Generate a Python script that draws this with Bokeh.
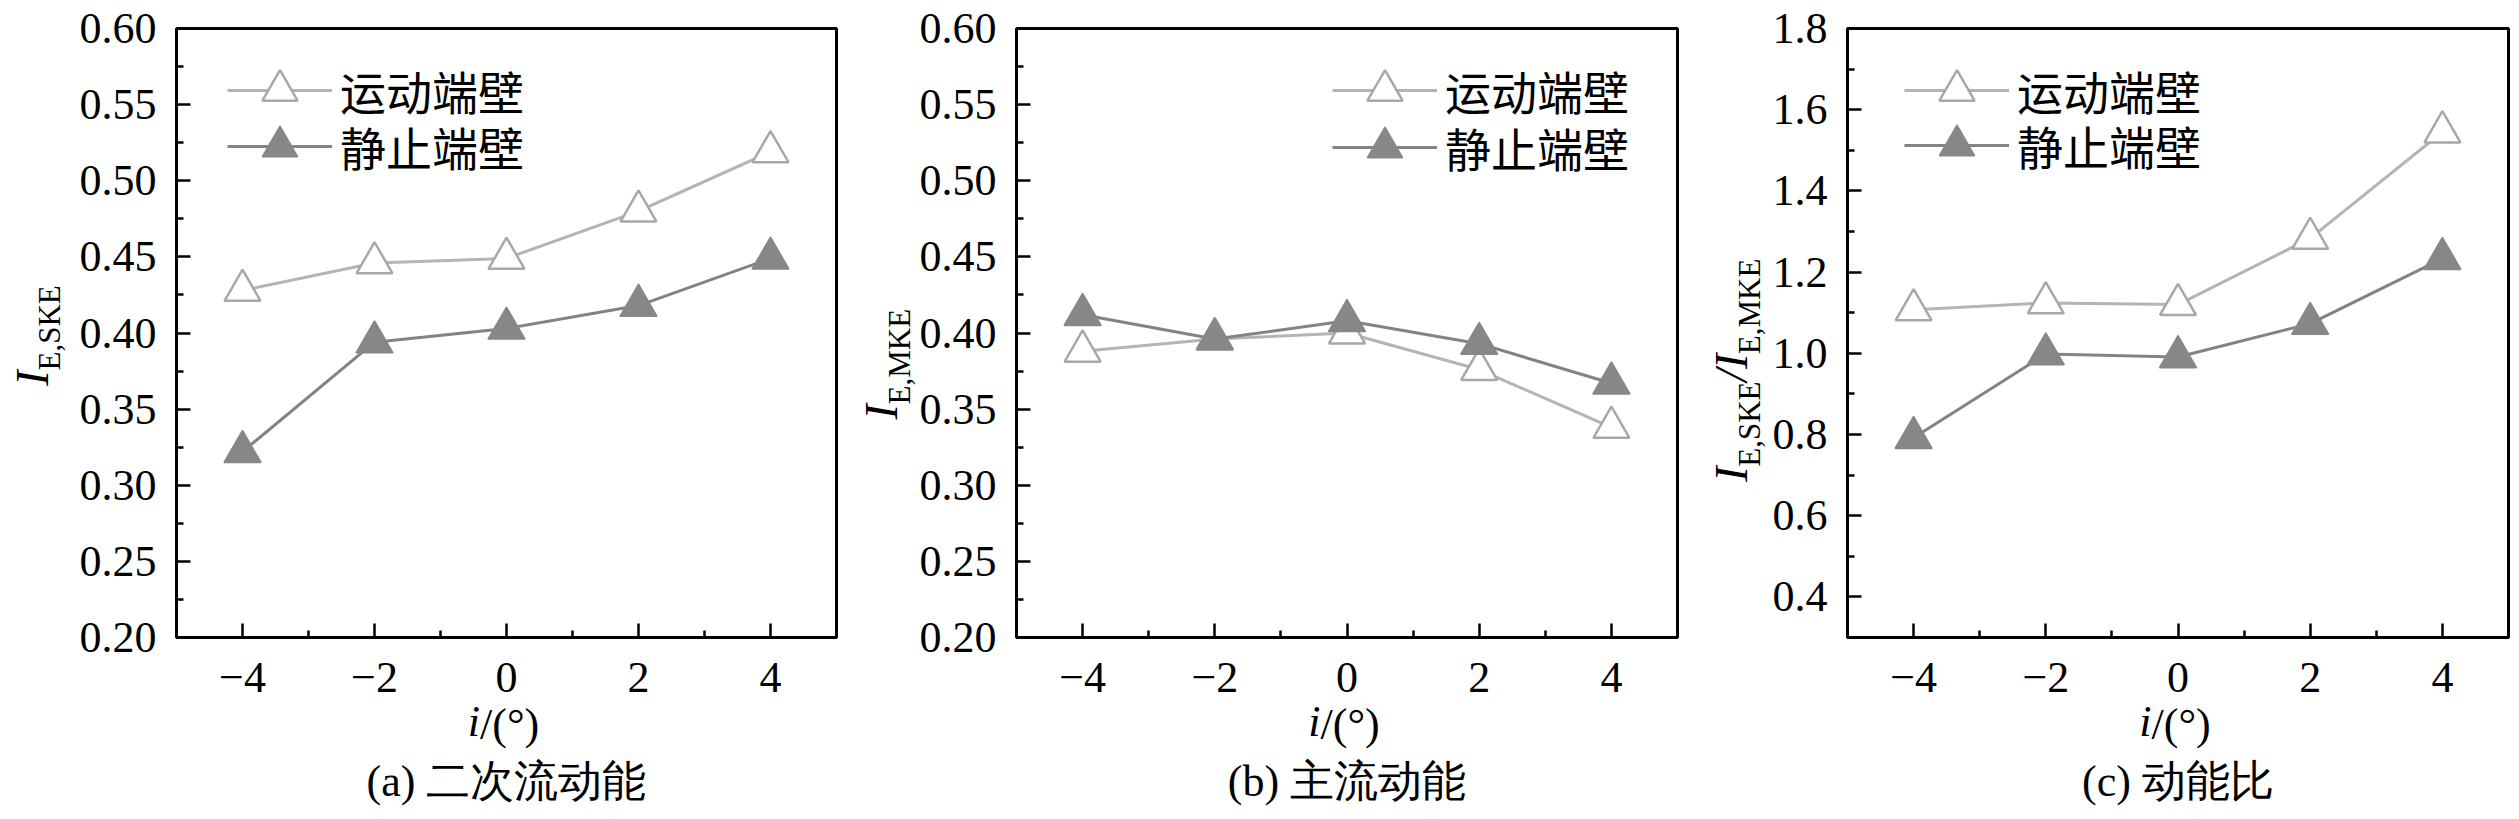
from bokeh.plotting import figure
from bokeh.models import (FixedTicker, Legend, LegendItem, Range1d,
                          NumeralTickFormatter, LinearAxis)
from bokeh.layouts import row
from bokeh.embed import file_html
from bokeh.resources import INLINE

# ---------------- data ----------------
incidence = [-4, -2, 0, 2, 4]
x_tick_labels = ["\u22124", "\u22122", "0", "2", "4"]
series_names = ["运动端壁", "静止端壁"]

ske_moving = [0.428, 0.446, 0.449, 0.480, 0.519]
ske_static = [0.322, 0.394, 0.403, 0.418, 0.449]

mke_moving = [0.388, 0.396, 0.400, 0.376, 0.338]
mke_static = [0.412, 0.396, 0.408, 0.393, 0.367]

ratio_moving = [1.107, 1.124, 1.120, 1.283, 1.545]
ratio_static = [0.792, 0.998, 0.991, 1.073, 1.233]

captions = ["(a) 二次流动能", "(b) 主流动能", "(c) 动能比"]
x_label_parts = ["i", "/(\u00b0)"]
ylabel_a = [("I", "E,SKE")]
ylabel_b = [("I", "E,MKE")]
ylabel_c = [("I", "E,SKE"), ("/", None), ("I", "E,MKE")]

yticks_ab = [0.20, 0.25, 0.30, 0.35, 0.40, 0.45, 0.50, 0.55, 0.60]
yminor_ab = [0.225, 0.275, 0.325, 0.375, 0.425, 0.475, 0.525, 0.575]
yticks_c = [0.4, 0.6, 0.8, 1.0, 1.2, 1.4, 1.6, 1.8]
yminor_c = [0.3, 0.5, 0.7, 0.9, 1.1, 1.3, 1.5, 1.7]
xminor = [-5, -3, -1, 1, 3, 5]

# ---------------- style ----------------
LIGHT_LINE = "#b4b4b4"
LIGHT_MARK = "#a8a8a8"
DARK_LINE = "#838383"
DARK_MARK = "#878787"
SERIF = "Liberation Serif"
CJK = "Noto Sans CJK SC"
ORIGIN_Y = 0                # page y of the figures' top edge
FH = 818
FRAME_BOTTOM = 637          # page px
TICK_FS = 44
XL_FS = 44
CAP_FS = 44
BIG_FS = 46
SUB_FS = 31
ASC_DESC = 1.116            # text box height (em) used by the layout
TW = {"I": 0.333, "E": 0.611, ",": 0.25, "S": 0.556, "K": 0.722,
      "M": 0.889, "/": 0.278, "i": 0.278, "(": 0.333, ")": 0.333,
      "\u00b0": 0.4}


def tw(s, fs):
    return sum(TW[c] for c in s) * fs


def blank_axis(ax):
    ax.axis_line_color = None
    ax.major_tick_line_color = None
    ax.minor_tick_line_color = None
    ax.major_tick_in = 0
    ax.major_tick_out = 0
    ax.minor_tick_in = 0
    ax.minor_tick_out = 0
    ax.major_label_text_color = "black"
    ax.major_label_text_font = SERIF


def text_axis(p, side, ticks, labels, fs, standoff, italic=False,
              vertical=False):
    ax = LinearAxis(ticker=FixedTicker(ticks=ticks, minor_ticks=[]),
                    major_label_overrides=dict(zip(ticks, labels)))
    blank_axis(ax)
    ax.major_label_text_font_size = f"{fs}px"
    ax.major_label_standoff = int(round(standoff))
    if italic:
        ax.major_label_text_font_style = "italic"
    if vertical:
        ax.major_label_orientation = "vertical"
    p.add_layout(ax, side)
    return ax


def make_panel(width, bl, br, frame_top, yr, yticks, yminor, yfmt, ytick_w,
               moving, static, leg_x, leg_rows, ylabel, ylab_off, ylab_center,
               caption):
    bt = frame_top - ORIGIN_Y
    bb = FH - (FRAME_BOTTOM - frame_top) - bt
    p = figure(width=width, height=FH, output_backend="svg",
               toolbar_location=None, x_range=Range1d(-5, 5),
               y_range=Range1d(*yr), min_border_left=bl, min_border_right=br,
               min_border_top=bt, min_border_bottom=bb)
    p.background_fill_color = "white"
    p.border_fill_color = "white"
    p.grid.visible = False
    p.outline_line_color = "black"
    p.outline_line_width = 3

    for ax in (p.xaxis[0], p.yaxis[0]):
        ax.axis_line_width = 3
        ax.major_tick_in = 14
        ax.major_tick_out = 0
        ax.minor_tick_in = 7
        ax.minor_tick_out = 0
        ax.major_tick_line_width = 2.5
        ax.minor_tick_line_width = 2.5
        ax.major_label_text_font = SERIF
        ax.major_label_text_font_size = f"{TICK_FS}px"
        ax.major_label_text_color = "black"
    p.yaxis[0].major_label_standoff = 20
    p.xaxis[0].major_label_standoff = 25

    p.xaxis[0].ticker = FixedTicker(ticks=incidence, minor_ticks=xminor)
    p.xaxis[0].major_label_overrides = {t: l for t, l in zip(incidence, x_tick_labels)}
    p.yaxis[0].ticker = FixedTicker(ticks=yticks, minor_ticks=yminor)
    p.yaxis[0].formatter = NumeralTickFormatter(format=yfmt)

    fw = width - bl - br
    fh = FRAME_BOTTOM - frame_top
    ymin, ymax = yr

    def px_to_x(px):            # px from frame left
        return -5 + px / fw * 10

    def py_to_y(py):            # page y
        return ymin + (FRAME_BOTTOM - py) / fh * (ymax - ymin)

    # ---- x label: italic "i" then upright "/(°)" on the same line
    w_i = tw(x_label_parts[0], XL_FS)
    w_r = tw(x_label_parts[1], XL_FS)
    start = fw / 2 - 3 - (w_i + w_r) / 2
    text_axis(p, "below", [px_to_x(start + w_i / 2)], [x_label_parts[0]],
              XL_FS, 2, italic=True)
    text_axis(p, "below", [px_to_x(start + w_i + w_r / 2)], [x_label_parts[1]],
              XL_FS, -ASC_DESC * XL_FS)
    # ---- caption
    text_axis(p, "below", [0.0], [caption], CAP_FS, 5)

    # ---- y label built from two single-purpose axes (main + subscript)
    parts = []
    for main, sub in ylabel:
        parts.append((main, BIG_FS, True))
        if sub:
            parts.append((sub, SUB_FS, False))
    total = sum(tw(t, fs) for t, fs, _ in parts)
    pos = ylab_center + total / 2       # page y of the text start (bottom)
    big_t, big_l, sub_t, sub_l = [], [], [], []
    for t, fs, is_big in parts:
        w = tw(t, fs)
        c = py_to_y(pos - w / 2)
        if is_big:
            big_t.append(c)
            big_l.append(t)
        else:
            sub_t.append(c)
            sub_l.append(t)
        pos -= w

    big_off, sub_off = ylab_off
    w0 = 20 + ytick_w
    s1 = int(round(sub_off - w0))
    w1 = s1 + ASC_DESC * SUB_FS
    s2 = big_off - w0 - w1
    text_axis(p, "left", sub_t, sub_l, SUB_FS, s1, vertical=True)
    text_axis(p, "left", big_t, big_l, BIG_FS, s2, italic=True, vertical=True)

    # ---- data
    l1 = p.line(incidence, moving, line_color=LIGHT_LINE, line_width=3)
    s1r = p.scatter(incidence, moving, marker="triangle", size=36,
                    line_color=LIGHT_MARK, line_width=2.5, fill_color="white")
    l2 = p.line(incidence, static, line_color=DARK_LINE, line_width=3)
    s2r = p.scatter(incidence, static, marker="triangle", size=37,
                    line_color=DARK_MARK, line_width=1.5, fill_color=DARK_MARK)

    for name, rends, rc in ((series_names[0], [l1, s1r], leg_rows[0]),
                            (series_names[1], [l2, s2r], leg_rows[1])):
        leg = Legend(items=[LegendItem(label=name, renderers=rends)],
                     location=(leg_x, FRAME_BOTTOM - rc - 44),
                     glyph_width=105, glyph_height=88, label_height=88,
                     label_standoff=8, padding=0, margin=0, spacing=0,
                     border_line_color=None, background_fill_alpha=0,
                     label_text_font=CJK, label_text_font_size="46px",
                     label_text_color="black")
        p.add_layout(leg)
    return p


pa = make_panel(850, 176, 14, 28, (0.2, 0.6), yticks_ab, yminor_ab, "0.00",
                1.75 * TICK_FS, ske_moving, ske_static, 51, (90, 146),
                ylabel_a, (113, 106), 335, captions[0])
pb = make_panel(850, 166, 23, 24, (0.2, 0.6), yticks_ab, yminor_ab, "0.00",
                1.75 * TICK_FS, mke_moving, mke_static, 316, (90, 147),
                ylabel_b, (103, 96), 362, captions[1])
pc = make_panel(815, 147, 7, 24, (0.3, 1.8), yticks_c, yminor_c, "0.0",
                1.25 * TICK_FS, ratio_moving, ratio_static, 57, (90, 145),
                ylabel_c, (84, 77), 368, captions[2])

layout = row(pa, pb, pc, spacing=0)
open("out.html", "w").write(file_html(layout, INLINE))
